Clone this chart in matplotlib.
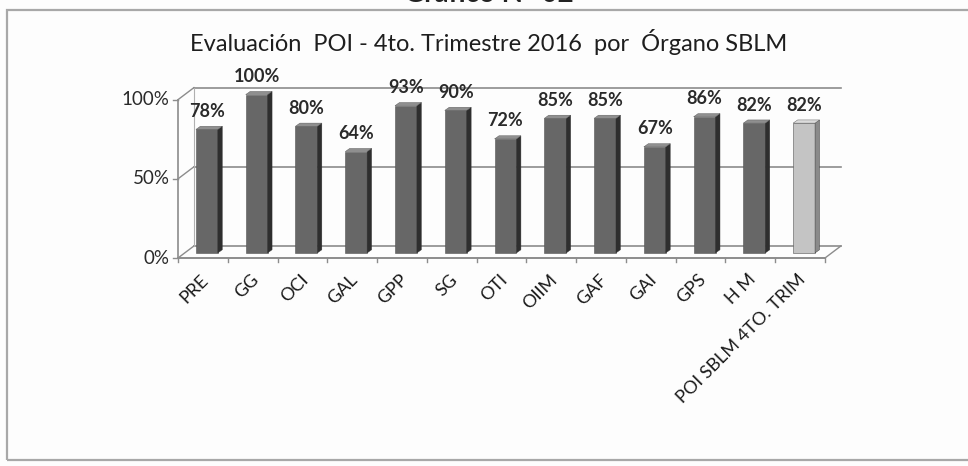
import matplotlib.pyplot as plt
from matplotlib.patches import Polygon

# data
categories = ['PRE', 'GG', 'OCI', 'GAL', 'GPP', 'SG', 'OTI', 'OIIM', 'GAF',
              'GAI', 'GPS', 'H M', 'POI SBLM 4TO. TRIM']
values = [78, 100, 80, 64, 93, 90, 72, 85, 85, 67, 86, 82, 82]
yticks = [0, 50, 100]

FONT = ['Lato', 'DejaVu Sans']
plt.rcParams['font.family'] = FONT

fig = plt.figure(figsize=(9.68, 4.66), dpi=100)
fig.patch.set_facecolor('#fdfdfd')

# outer frame of the scanned box
frame = plt.Rectangle((7 / 968, 6 / 466), 1.2, 450 / 466, transform=fig.transFigure,
                      fill=False, edgecolor='#a8a8a8', lw=1.6)
fig.add_artist(frame)

# top heading, cut off by the scan
fig.text(0.505, 1.012, 'Gráfico N° 02', ha='center', va='center',
         fontsize=20, fontweight='bold', color='#222222')

# chart title
fig.text(489 / 968, (466 - 42) / 466,
         'Evaluación  POI - 4to. Trimestre 2016  por  Órgano SBLM',
         ha='center', va='center', fontsize=17, color='#1e1e1e')

ax = fig.add_axes([178 / 968, 208 / 466, 647 / 968, 190 / 466])
ax.set_xlim(-0.5, len(categories) - 0.5)
ax.set_ylim(0, 120)
ax.axis('off')

# depth of the 3d box in data units
dx, dy = 0.32, 7.6
x0, x1 = -0.5, len(categories) - 0.5
grid_c = '#8c8c8c'

# back wall grid lines
for t in yticks:
    ax.plot([x0 + dx, x1 + dx], [t + dy, t + dy], color=grid_c, lw=1.2,
            clip_on=False)
    ax.plot([x0, x0 + dx], [t, t + dy], color=grid_c, lw=1.0, clip_on=False)
# left wall edges
ax.plot([x0, x0], [0, 100], color=grid_c, lw=1.2, clip_on=False)
ax.plot([x0 + dx, x0 + dx], [dy, 100 + dy], color='#b0b0b0', lw=0.8,
        clip_on=False)
# floor front + right edge
ax.plot([x0, x1], [0, 0], color=grid_c, lw=1.4, clip_on=False)
ax.plot([x1, x1 + dx], [0, dy], color=grid_c, lw=1.0, clip_on=False)

# y ticks
for t in yticks:
    ax.plot([x0 - 0.1, x0], [t, t], color=grid_c, lw=1.0, clip_on=False)
    ax.text(x0 - 0.17, t, '{}%'.format(t), ha='right', va='center',
            fontsize=13.5, color='#2a2a2a')
# x ticks at category boundaries
for i in range(len(categories) + 1):
    xt = x0 + i
    ax.plot([xt, xt], [0, -2.6], color=grid_c, lw=1.0, clip_on=False)

# bars with side and top faces
w = 0.44
bx, by = 0.08, 3.2
sx, sy = 0.09, 2.0
for i, (cat, v) in enumerate(zip(categories, values)):
    last = i == len(categories) - 1
    front = '#c4c4c4' if last else '#676767'
    side = '#8a8a8a' if last else '#2e2e2e'
    top = '#dcdcdc' if last else '#8f8f8f'
    left = i - w / 2 + bx
    right = left + w
    ax.bar(left + w / 2, v, width=w, bottom=by, color=front,
           edgecolor='#555555', linewidth=0.4, zorder=3)
    ax.add_patch(Polygon([(right, by), (right + sx, by + sy),
                          (right + sx, v + by + sy), (right, v + by)],
                         closed=True, facecolor=side, edgecolor='#333333',
                         linewidth=0.3, zorder=3))
    ax.add_patch(Polygon([(left, v + by), (left + sx, v + by + sy),
                          (right + sx, v + by + sy), (right, v + by)],
                         closed=True, facecolor=top, edgecolor='#555555',
                         linewidth=0.3, zorder=3))
    ax.text(i + bx, v + by + 6.0, '{}%'.format(v), ha='center',
            va='bottom', fontsize=13, fontweight='bold', color='#2a2a2a',
            zorder=4)
    ax.text(i - 0.05, -8.5, cat, ha='right', va='top', rotation=45,
            rotation_mode='anchor', fontsize=13, color='#1a1a1a')

fig.savefig('out.png', dpi=100, facecolor=fig.get_facecolor())
